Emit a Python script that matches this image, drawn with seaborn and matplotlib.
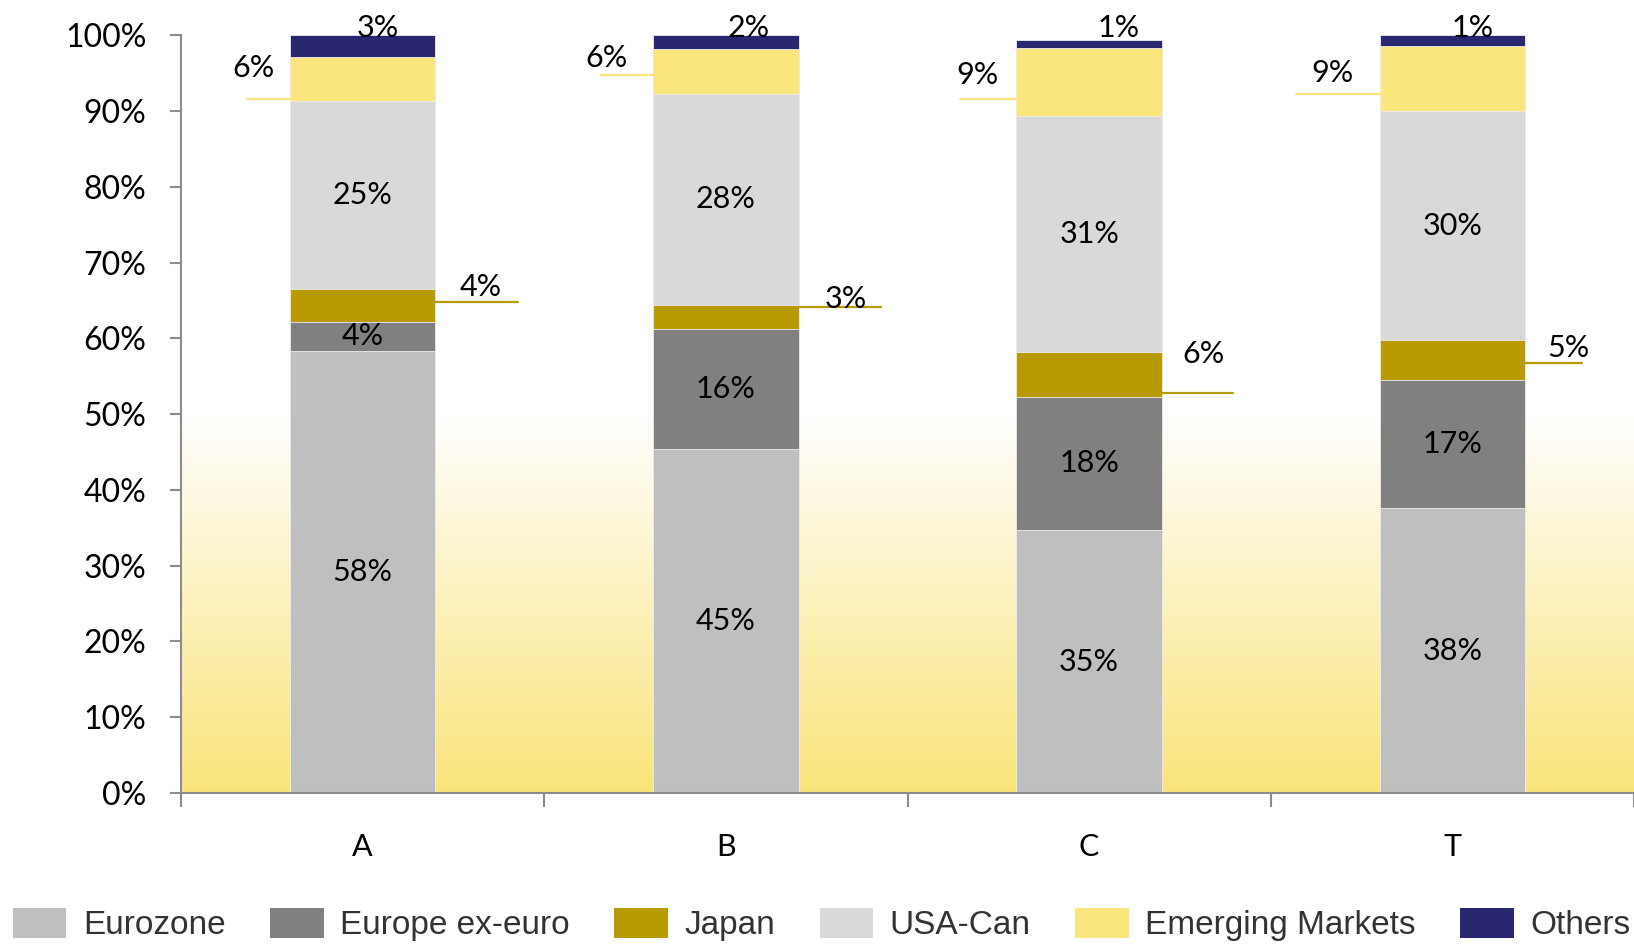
import numpy as np
import seaborn as sns
from matplotlib import pyplot as plt
from matplotlib.colors import LinearSegmentedColormap
from matplotlib.patches import Patch

# data (percent of total)
categories = ['A', 'B', 'C', 'T']
series = ['Eurozone', 'Europe ex-euro', 'Japan', 'USA-Can', 'Emerging Markets', 'Others']
eurozone = [58.4, 45.4, 34.7, 37.6]
europe_ex_euro = [3.8, 15.9, 17.6, 16.9]
japan = [4.3, 3.1, 5.9, 5.3]
usa_can = [24.9, 27.9, 31.2, 30.2]
emerging = [5.7, 5.9, 8.9, 8.6]
others = [2.9, 1.8, 1.1, 1.4]
y_ticks = [0, 10, 20, 30, 40, 50, 60, 70, 80, 90, 100]

colors = ['#BFBFBF', '#808080', '#B89B02', '#D9D9D9', '#FBE67E', '#28276F']

# label placement (offsets from bar centre, y in data units)
others_dx = [0.043, 0.063, 0.08, 0.057]
em_text_dx = [-0.30, -0.33, -0.307, -0.33]
em_text_y = [95.7, 97.0, 94.8, 95.1]
em_line_y = [91.6, 94.8, 91.6, 92.3]
em_line_x0 = [-0.318, -0.344, -0.356, -0.43]
jp_text_dx = [0.324, 0.33, 0.316, 0.32]
jp_text_y = [66.8, 65.2, 57.9, 58.8]
jp_line_y = [64.8, 64.2, 52.8, 56.8]
jp_line_x1 = [0.427, 0.427, 0.396, 0.356]

sns.set_theme(style='white')
plt.rcParams['font.family'] = ['Lato', 'DejaVu Sans']

values = np.array([eurozone, europe_ex_euro, japan, usa_can, emerging, others])
cum = values.cumsum(axis=0)

fig = plt.figure(figsize=(16.34, 9.49), dpi=100)
ax = fig.add_axes([0.1108, 0.1644, 0.8892, 0.7983])

# overlay cumulative bars from the top segment down
bar_w = 0.4
for i in range(len(series) - 1, -1, -1):
    sns.barplot(x=categories, y=cum[i], color=colors[i], saturation=1, width=bar_w,
                errorbar=None, ax=ax, edgecolor='#EDEDED', linewidth=0.6, zorder=2)

# yellow gradient background in lower half
cmap = LinearSegmentedColormap.from_list('bg', ['#FAE47A', '#FFFFFF'])
grad = np.linspace(0, 1, 256).reshape(-1, 1)
ax.imshow(grad, extent=[-0.5, 3.5, 0, 50], origin='lower', aspect='auto', cmap=cmap, zorder=0)

ax.set_xlim(-0.5, 3.5)
ax.set_ylim(0, 100)

lab_size = 22

# labels inside the bars
for i in [0, 1, 3]:
    for j in range(len(categories)):
        yc = cum[i][j] - values[i][j] / 2
        ax.text(j, yc, f'{values[i][j]:.0f}%', ha='center', va='center', fontsize=lab_size,
                color='black', zorder=3)

for j in range(len(categories)):
    # others above the bar
    ax.text(j + others_dx[j], 101.0, f'{others[j]:.0f}%', ha='center', va='center',
            fontsize=lab_size, color='black', zorder=3, clip_on=False)
    # emerging markets, left side with leader line
    ax.plot([j + em_line_x0[j], j - bar_w / 2], [em_line_y[j]] * 2, color=colors[4], lw=1.6, zorder=3)
    ax.text(j + em_text_dx[j], em_text_y[j], f'{emerging[j]:.0f}%', ha='center', va='center',
            fontsize=lab_size, color='black', zorder=3)
    # japan, right side with leader line
    ax.plot([j + bar_w / 2, j + jp_line_x1[j]], [jp_line_y[j]] * 2, color=colors[2], lw=1.6, zorder=3)
    ax.text(j + jp_text_dx[j], jp_text_y[j], f'{japan[j]:.0f}%', ha='center', va='center',
            fontsize=lab_size, color='black', zorder=3)

# axes styling
for s in ['top', 'right']:
    ax.spines[s].set_visible(False)
for s in ['left', 'bottom']:
    ax.spines[s].set_color('#8C8C8C')
    ax.spines[s].set_linewidth(1.5)
    ax.spines[s].set_zorder(4)

ax.set_yticks(y_ticks)
ax.set_yticklabels([f'{t}%' for t in y_ticks])
ax.tick_params(axis='y', which='major', left=True, length=8, width=1.5, color='#8C8C8C',
               labelsize=23, pad=17, labelcolor='black')
ax.set_xticks(range(len(categories)))
ax.set_xticklabels(categories)
ax.tick_params(axis='x', which='major', length=0, labelsize=22, pad=29, labelcolor='black')
ax.set_xticks([-0.5, 0.5, 1.5, 2.5, 3.5], minor=True)
ax.tick_params(axis='x', which='minor', bottom=True, length=10, width=1.5, color='#8C8C8C')
ax.set_xlabel('')
ax.set_ylabel('')

handles = [Patch(facecolor=c, edgecolor='none') for c in colors]
fig.legend(handles, series, loc='lower left', bbox_to_anchor=(0.008, 0.008, 0.99, 0.06),
           mode='expand', ncol=6, frameon=False, handlelength=1.6, handleheight=1.05,
           handletextpad=0.5, borderaxespad=0, borderpad=0,
           prop={'family': ['Liberation Sans Narrow', 'Liberation Sans'], 'size': 24},
           labelcolor='#333333')

fig.savefig('out.png', dpi=100)
